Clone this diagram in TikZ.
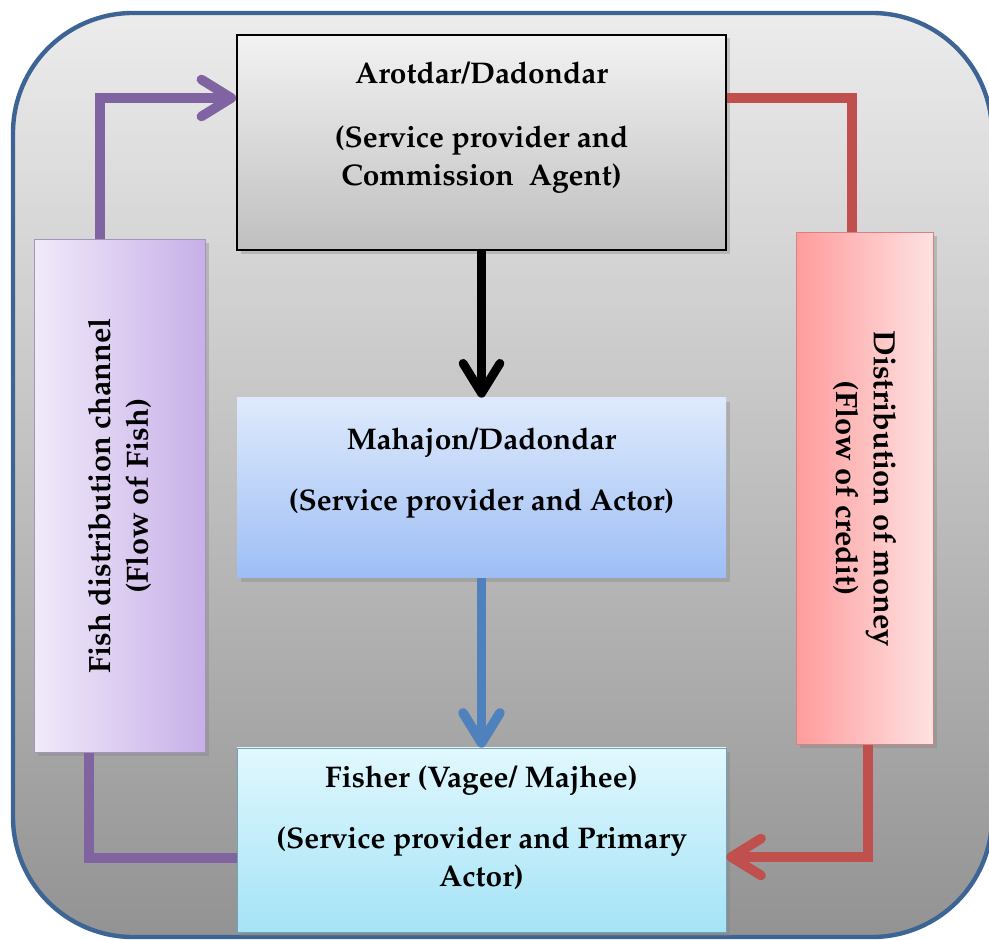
\documentclass[tikz,border=0pt]{standalone}
\usepackage[T1]{fontenc}
\usepackage{mathpazo}
\usepackage{tikz}
\usetikzlibrary{arrows.meta,shadows}

\definecolor{frameblue}{HTML}{3C6494}
\definecolor{flowpurple}{HTML}{8064A2}
\definecolor{flowred}{HTML}{C0504D}
\definecolor{flowblue}{HTML}{4F81BD}

\tikzset{
  box/.style={minimum width=9.78cm, align=center,
    font=\fontsize{17}{21.5}\selectfont\bfseries,
    drop shadow={opacity=0.35, shadow xshift=2pt, shadow yshift=-2pt}},
  sidebox/.style={minimum width=10.25cm, align=center,
    font=\fontsize{17.5}{21.5}\selectfont\bfseries,
    drop shadow={opacity=0.35, shadow xshift=2pt, shadow yshift=-2pt}},
  link/.style={line width=5.5pt},
  head/.style={-{Straight Barb[length=17pt,width=21pt,round]}}
}

\begin{document}
\begin{tikzpicture}
\useasboundingbox (0,0) rectangle (19.78,18.8);
\begin{scope}
\clip (0,0) rectangle (19.78,18.8);
\draw[line width=2.5pt, draw=frameblue, top color=gray!15, bottom color=gray!85,
  rounded corners=2.4cm] (0.26,0.06) rectangle (19.84,18.54);
\end{scope}

% the three actors
\node[box, draw=black, line width=1pt, minimum height=4.3cm,
  top color=gray!10, bottom color=gray!50] (aro) at (9.63,15.95)
  {Arotdar/Dadondar\\[15pt](Service provider and\\Commission~ Agent)\\ \mbox{}};
\node[box, minimum height=3.6cm,
  top color={rgb,255:red,222;green,234;blue,252},
  bottom color={rgb,255:red,157;green,190;blue,245}] (maha) at (9.63,9.04)
  {Mahajon/Dadondar\\[13pt](Service provider and Actor)\\ \mbox{}};
\node[box, draw=cyan!40!gray, line width=0.4pt, minimum height=3.68cm,
  top color={rgb,255:red,225;green,248;blue,254},
  bottom color={rgb,255:red,164;green,227;blue,246}] (fisher) at (9.63,2.0)
  {Fisher (Vagee/ Majhee)\\[13pt](Service provider and Primary\\Actor)\\[-6pt]\mbox{}};

% the two channels
\node[sidebox, draw=flowpurple!70, minimum height=3.42cm, rotate=90,
  left color={rgb,255:red,241;green,234;blue,250},
  right color={rgb,255:red,199;green,176;blue,232}] (fishch) at (2.39,8.88)
  {Fish distribution channel\\(Flow of Fish)};
\node[sidebox, draw=flowred!70, minimum height=2.74cm, rotate=-90,
  left color={rgb,255:red,255;green,156;blue,156},
  right color={rgb,255:red,253;green,226;blue,226}] (money) at (17.29,9.03)
  {Distribution of money\\(Flow of credit)};

% flows
\draw[link, black, line width=5pt, head] (aro) -- (maha);
\draw[link, flowblue, head] (maha) -- (fisher);
\draw[link, flowpurple, head] ([xshift=-0.39cm]fishch.east) |- ([yshift=0.89cm]aro.west);
\draw[link, flowpurple] ([xshift=-0.61cm]fishch.west) |- ([yshift=-0.36cm]fisher.west);
\draw[link, flowred] ([yshift=0.89cm]aro.east) -| ([xshift=-0.25cm]money.west);
\draw[link, flowred, head] ([xshift=0.07cm]money.east) |- ([yshift=-0.34cm]fisher.east);
\end{tikzpicture}
\end{document}
